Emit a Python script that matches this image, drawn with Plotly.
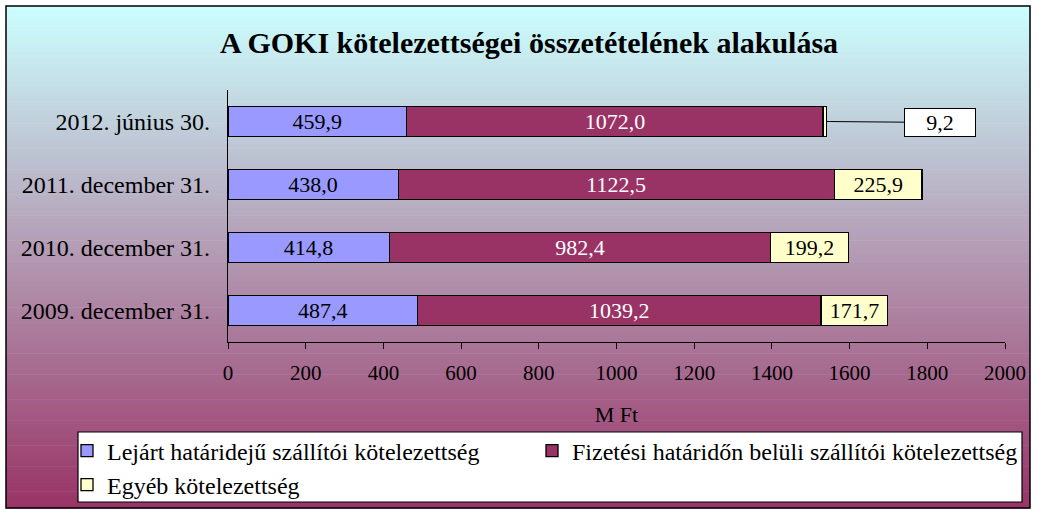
import plotly.graph_objects as go

categories = ["2009. december 31.", "2010. december 31.", "2011. december 31.", "2012. június 30."]
lejart = [487.4, 414.8, 438.0, 459.9]
fizetesi = [1039.2, 982.4, 1122.5, 1072.0]
egyeb = [171.7, 199.2, 225.9, 9.2]
series_names = ["Lejárt határidejű szállítói kötelezettség",
                "Fizetési határidőn belüli szállítói kötelezettség",
                "Egyéb kötelezettség"]
x_ticks = [0, 200, 400, 600, 800, 1000, 1200, 1400, 1600, 1800, 2000]

W, H = 1046, 518
L, R, T, B = 228, 41, 90, 176
PW, PH = W - L - R, H - T - B
FONT = "Liberation Serif"


def px2x(px):
    return (px - L) / PW


def py2y(py):
    return (H - B - py) / PH


fig = go.Figure()
fig.add_trace(go.Bar(
    y=categories, x=lejart, name=series_names[0], orientation="h",
    marker=dict(color="#9999FF", line=dict(color="black", width=1.3)),
    texttemplate="%{x:.1f}", textposition="inside", insidetextanchor="middle",
    textangle=0, constraintext="none",
    textfont=dict(family=FONT, size=22, color="black"), legend="legend",
))
fig.add_trace(go.Bar(
    y=categories, x=fizetesi, name=series_names[1], orientation="h",
    marker=dict(color="#993366", line=dict(color="black", width=1.3)),
    texttemplate="%{x:.1f}", textposition="inside", insidetextanchor="middle",
    textangle=0, constraintext="none",
    textfont=dict(family=FONT, size=22, color="white"), legend="legend2",
))
fig.add_trace(go.Bar(
    y=categories, x=egyeb, name=series_names[2], orientation="h",
    marker=dict(color="#FFFFCC", line=dict(color="black", width=1.3)),
    texttemplate=["%{x:.1f}"] * (len(egyeb) - 1) + [""],
    textposition="inside", insidetextanchor="middle",
    textangle=0, constraintext="none",
    textfont=dict(family=FONT, size=22, color="black"), legend="legend3",
))

# callout for the small last value
last_total = lejart[-1] + fizetesi[-1] + egyeb[-1]
end_px = L + last_total / 2000 * PW
fig.add_annotation(
    x=last_total, y=categories[-1], xref="x", yref="y",
    text="9,2", showarrow=True, arrowhead=0, arrowwidth=1, arrowcolor="black",
    ax=940 - end_px, ay=1, axref="pixel", ayref="pixel",
    bgcolor="white", bordercolor="black", borderwidth=1, borderpad=2,
    width=66, height=23, font=dict(family=FONT, size=22, color="black"),
)

# background gradient (style only)
shapes = []
top_c = (204, 255, 255)
bot_c = (153, 51, 102)
y0, y1 = 6, 508
n = 120
for i in range(n):
    a = y0 + (y1 - y0) * i / n
    b = y0 + (y1 - y0) * (i + 1) / n
    f = (i + 0.5) / n
    c = tuple(round(top_c[k] + (bot_c[k] - top_c[k]) * f) for k in range(3))
    shapes.append(dict(type="rect", xref="paper", yref="paper", layer="below",
                       x0=px2x(6), x1=px2x(1030), y0=py2y(a), y1=py2y(b + 0.6),
                       fillcolor="rgb(%d,%d,%d)" % c, line=dict(width=0)))
shapes.append(dict(type="rect", xref="paper", yref="paper", layer="below",
                   x0=px2x(6), x1=px2x(1030), y0=py2y(6), y1=py2y(508),
                   fillcolor="rgba(0,0,0,0)", line=dict(color="black", width=1.5)))
# legend box
shapes.append(dict(type="rect", xref="paper", yref="paper", layer="below",
                   x0=px2x(78), x1=px2x(1022), y0=py2y(432), y1=py2y(502),
                   fillcolor="white", line=dict(color="black", width=1.2)))

legend_common = dict(orientation="h", xref="container", yref="container",
                     xanchor="left", yanchor="middle", bgcolor="rgba(0,0,0,0)",
                     font=dict(family=FONT, size=24, color="black"),
                     traceorder="normal", itemwidth=30, tracegroupgap=0)

fig.update_layout(
    width=W, height=H,
    margin=dict(l=L, r=R, t=T, b=B, pad=0, autoexpand=False),
    paper_bgcolor="white", plot_bgcolor="rgba(0,0,0,0)",
    barmode="stack", bargap=0.52,
    separators=", ",
    shapes=shapes,
    showlegend=True,
    title=dict(text="<b>A GOKI kötelezettségei összetételének alakulása</b>",
               x=529 / W, xanchor="center", y=1 - 42 / H, yanchor="middle",
               font=dict(family=FONT, size=30, color="black")),
    legend=dict(x=67 / W, y=1 - 451 / H, **legend_common),
    legend2=dict(x=532 / W, y=1 - 451 / H, **legend_common),
    legend3=dict(x=67 / W, y=1 - 485 / H, **legend_common),
    xaxis=dict(range=[0, 2000], tickvals=x_ticks, showgrid=False, zeroline=False,
               automargin=False,
               showline=True, linecolor="black", linewidth=1.2,
               ticks="outside", ticklen=6, tickcolor="black", ticklabelstandoff=6,
               tickfont=dict(family=FONT, size=21, color="black"),
               title=dict(text="M Ft", standoff=22, font=dict(family=FONT, size=22, color="black"))),
    yaxis=dict(showgrid=False, zeroline=False, showline=True, linecolor="black", linewidth=1.2,
               automargin=False,
               ticks="", ticklabelstandoff=12,
               tickfont=dict(family=FONT, size=24, color="black")),
)

fig.write_html("out.html", config={"displayModeBar": False},
               post_script="document.body.style.margin='0';document.body.style.overflow='hidden';")
